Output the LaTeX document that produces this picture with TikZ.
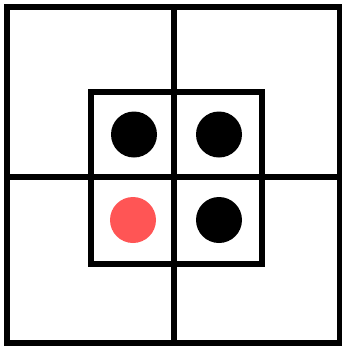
\documentclass[tikz,border=0pt]{standalone}
\definecolor{dotred}{RGB}{255,85,85}
\tikzset{
  gridline/.style={line width=6pt, line cap=rect},
  dot/.style={circle, fill=black, inner sep=0pt, minimum size=46pt},
  reddot/.style={dot, fill=dotred}
}
\begin{document}
\begin{tikzpicture}[x=1pt,y=-1pt]
\useasboundingbox (0,0) rectangle (342,346);
\draw[gridline] (6.5,7) rectangle (340,342.5);
\draw[gridline] (174,7) -- (174,342.5);
\draw[gridline] (6.5,176.5) -- (340,176.5);
\draw[gridline] (91,92) rectangle (261.5,263.5);
\node[dot] (tl) at (134,134.5) {};
\node[dot] (tr) at (219,134.5) {};
\node[reddot] (bl) at (133,220) {};
\node[dot] (br) at (219,220) {};
\end{tikzpicture}
\end{document}
